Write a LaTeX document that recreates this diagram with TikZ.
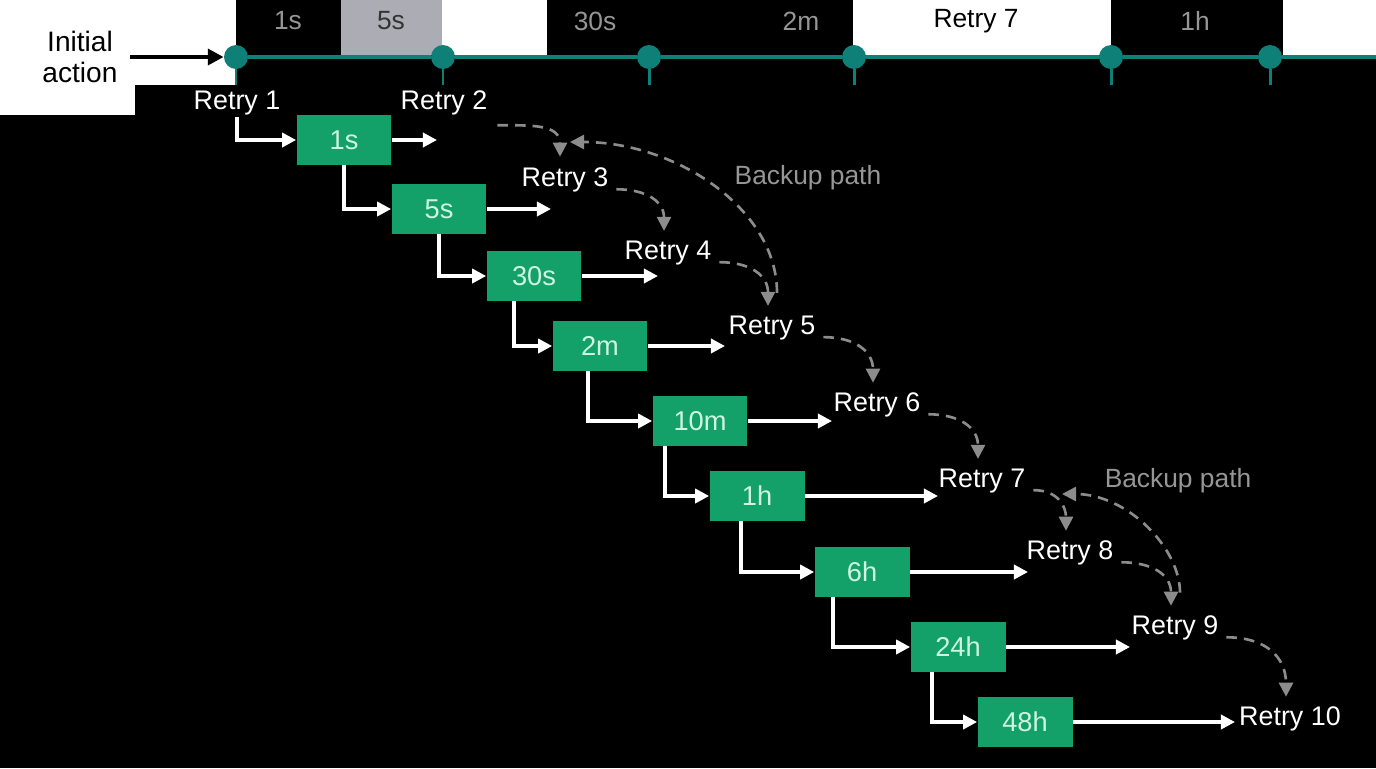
\documentclass[tikz,border=0pt]{standalone}
\usepackage{fontspec}
\setmainfont{Liberation Sans}
\usetikzlibrary{arrows.meta, positioning}

\definecolor{boxgreen}{RGB}{20,160,105}
\definecolor{mint}{RGB}{205,245,225}
\definecolor{lineteal}{RGB}{15,128,120}
\definecolor{bandgray}{RGB}{172,172,180}
\definecolor{dashgray}{RGB}{140,140,140}
\definecolor{labelgray}{RGB}{150,150,150}

\begin{document}
\begin{tikzpicture}[
    x=0.02cm, y=-0.02cm,
    delay/.style={rectangle, fill=boxgreen, text=mint, minimum width=1.9cm, minimum height=1cm, inner sep=0pt, font=\fontsize{15.5}{18}\selectfont},
    retry/.style={text=white, inner sep=1pt, font=\fontsize{15.3}{18}\selectfont},
    bandlabel/.style={inner sep=0pt, font=\fontsize{15}{18}\selectfont},
    dot/.style={circle, fill=lineteal, minimum size=0.48cm, inner sep=0pt},
    stem/.style={lineteal, line width=1.7pt},
    flow/.style={-{Triangle[length=8pt, width=8pt]}, white, line width=2.2pt},
    backup/.style={-{Triangle[length=8pt, width=8pt]}, dashgray, line width=1.5pt, dash pattern=on 6pt off 4pt}
]
    % Background
    \fill[black] (0,0) rectangle (1376,768);
    \useasboundingbox (0,0) rectangle (1376,768);
    \fill[white] (0,0) rectangle (236,85);
    \fill[white] (0,85) rectangle (135,115);

    % Band of waiting times on top
    \fill[bandgray] (341,0) rectangle (442,55);
    \fill[white] (442,0) rectangle (547,55);
    \fill[white] (853,0) rectangle (1111,55);
    \fill[white] (1283,0) rectangle (1376,55);
    \node[bandlabel, text=labelgray] (w1) at (288,21) {1s};
    \node[bandlabel, text=black!80] (w2) at (391,21) {5s};
    \node[bandlabel, text=labelgray] (w3) at (595,21) {30s};
    \node[bandlabel, text=labelgray] (w4) at (801,21) {2m};
    \node[bandlabel, text=black] (w5) at (976,21) {Retry 7};
    \node[bandlabel, text=labelgray] (w6) at (1195,21) {1h};

    % Timeline
    \node[align=center, inner sep=2pt, font=\fontsize{16}{18}\selectfont] (init) at (80,57) {Initial\\action};
    \node[dot] (t1) at (236,57) {};
    \node[dot] (t2) at (443,57) {};
    \node[dot] (t3) at (649,57) {};
    \node[dot] (t4) at (854,57) {};
    \node[dot] (t5) at (1111,57) {};
    \node[dot] (t6) at (1270,57) {};
    \coordinate (tend) at (1376,57);
    \draw[lineteal, line width=2.8pt] (t1) -- (t2) -- (t3) -- (t4) -- (t5) -- (t6) -- (tend);
    \foreach \t in {t1,t2,t3,t4,t5,t6}
        \draw[stem] (\t.south) -- ++(0,16);
    \draw[-{Triangle[length=9pt, width=9pt]}, line width=2.2pt, shorten <=5pt] (init.east) -- (t1.west);

    % Retries
    \node[retry] (r1) at (237,103) {Retry 1};
    \node[retry] (r2) at (444,103) {Retry 2};
    \node[retry] (r3) at (565,180) {Retry 3};
    \node[retry] (r4) at (668,253) {Retry 4};
    \node[retry] (r5) at (772,328) {Retry 5};
    \node[retry] (r6) at (877,405) {Retry 6};
    \node[retry] (r7) at (982,481) {Retry 7};
    \node[retry] (r8) at (1070,553) {Retry 8};
    \node[retry] (r9) at (1175,628) {Retry 9};
    \node[retry] (r10) at (1290,719) {Retry 10};

    % Delays
    \node[delay] (d1) at (344,140) {1s};
    \node[delay] (d2) at (439,209) {5s};
    \node[delay] (d3) at (534,276) {30s};
    \node[delay] (d4) at (600,346) {2m};
    \node[delay] (d5) at (700,421) {10m};
    \node[delay] (d6) at (757,496) {1h};
    \node[delay] (d7) at (862,572) {6h};
    \node[delay] (d8) at (958,647) {24h};
    \node[delay] (d9) at (1025,722) {48h};

    % Ends of the outgoing arrows
    \coordinate (e1) at (437,140);
    \coordinate (e2) at (551,209);
    \coordinate (e3) at (658,276);
    \coordinate (e4) at (725,346);
    \coordinate (e5) at (832,421);
    \coordinate (e6) at (938,496);
    \coordinate (e7) at (1028,572);
    \coordinate (e8) at (1130,647);
    \coordinate (e9) at (1235,722);

    % Staircase
    \draw[flow] (r1.south) |- (d1.west);
    \draw[flow] (d1.south) |- (d2.west);
    \draw[flow] (d2.south) |- (d3.west);
    \draw[flow] ([xshift=0.56cm]d3.south west) |- (d4.west);
    \draw[flow] ([xshift=0.72cm]d4.south west) |- (d5.west);
    \draw[flow] ([xshift=0.26cm]d5.south west) |- (d6.west);
    \draw[flow] ([xshift=0.64cm]d6.south west) |- (d7.west);
    \draw[flow] ([xshift=0.38cm]d7.south west) |- (d8.west);
    \draw[flow] ([xshift=0.44cm]d8.south west) |- (d9.west);
    \foreach \i in {1,...,9}
        \draw[flow] (d\i.east) -- (e\i);

    % Backup paths
    \draw[backup] ([xshift=0.16cm, yshift=-0.16cm]r2.south east) to[out=0, in=90, looseness=1.2] ([xshift=-0.1cm, yshift=0.18cm]r3.north);
    \foreach \a/\b in {r3/r4, r4/r5, r5/r6, r6/r7, r7/r8, r8/r9, r9/r10}
        \draw[backup] ([xshift=0.12cm, yshift=0.1cm]\a.south east) to[out=0, in=90, looseness=1.2] ([xshift=-0.08cm, yshift=0.16cm]\b.north);
    \coordinate (b1) at (570,142);
    \coordinate (b2) at (1062,494);
    \draw[backup, shorten <=12pt] ([xshift=0.1cm]r5.north) to[out=90, in=0] (b1);
    \draw[backup, shorten <=12pt] ([xshift=0.1cm]r9.north) to[out=90, in=0] (b2);
    \node[bandlabel, text=labelgray] (bp1) at (808,178) {Backup path};
    \node[bandlabel, text=labelgray] (bp2) at (1178,481) {Backup path};
\end{tikzpicture}
\end{document}
